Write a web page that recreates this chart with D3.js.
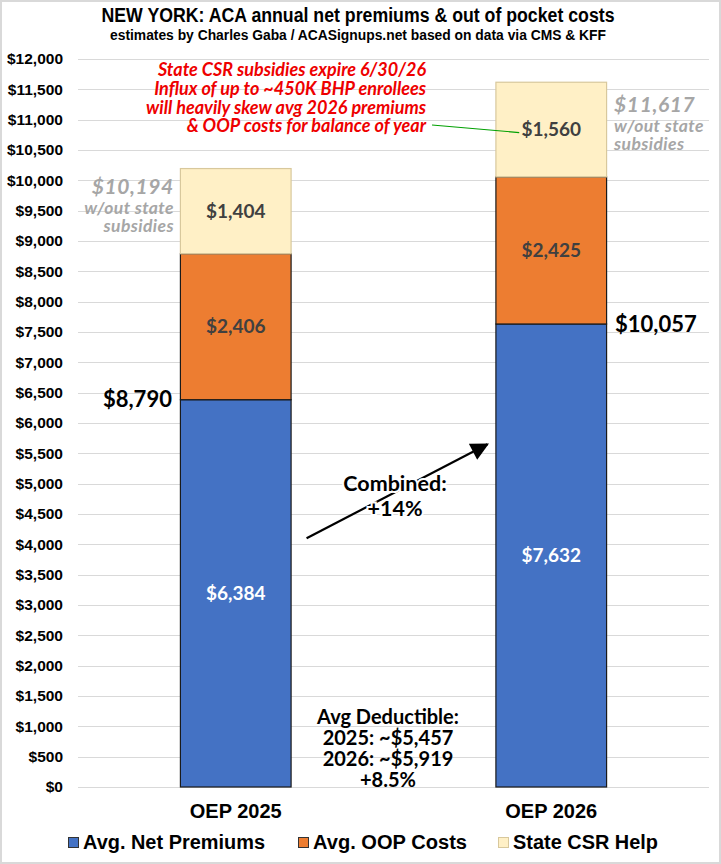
<!DOCTYPE html>
<html>
<head>
<meta charset="utf-8">
<script src="https://cdn.jsdelivr.net/npm/d3@7"></script>
<style>
  html, body { margin: 0; padding: 0; background: #fff; }
  svg { display: block; }
</style>
</head>
<body>
<svg id="chart" width="721" height="864"></svg>
<script>
// ---- data ----
const categories = ["OEP 2025", "OEP 2026"];
const netPremiums = [6384, 7632];
const oopCosts = [2406, 2425];
const csrHelp = [1404, 1560];
const seriesNames = ["Avg. Net Premiums", "Avg. OOP Costs", "State CSR Help"];
const yTicks = d3.range(0, 12001, 500);
const redNote = [
  "State CSR subsidies expire 6/30/26",
  "Influx of up to ~450K BHP enrollees",
  "will heavily skew avg 2026 premiums",
  "& OOP costs for balance of year"
];
const deductibleNote = ["Avg Deductible:", "2025: ~$5,457", "2026: ~$5,919", "+8.5%"];
const combinedNote = ["Combined:", "+14%"];

const W = 721, H = 864;
const svg = d3.select("#chart");
const colors = ["#4472C4", "#ED7D31", "#FFF0C6"];
const strokes = ["#1a1a1a", "#1a1a1a", "#d8c89c"];
const calibri = "Lato, 'Open Sans', sans-serif";
const arial = "'Liberation Sans', Arial, sans-serif";
const fmt = d3.format("$,");

// frame
svg.append("rect").attr("x", 1).attr("y", 1).attr("width", W - 2).attr("height", H - 2)
  .attr("fill", "#fff").attr("stroke", "#d9d9d9").attr("stroke-width", 2);

const x = d3.scaleBand().domain(categories).range([78, 709]).paddingInner(0.646).paddingOuter(0.323);
const y = d3.scaleLinear().domain([0, 12000]).range([787, 59]);

// gridlines
svg.append("g").selectAll("line").data(yTicks).join("line")
  .attr("x1", 78).attr("x2", 709)
  .attr("y1", d => Math.round(y(d)) + 0.5).attr("y2", d => Math.round(y(d)) + 0.5)
  .attr("stroke", "#d9d9d9").attr("stroke-width", 1);

// y axis labels
const yAxis = d3.axisLeft(y).tickValues(yTicks).tickFormat(fmt).tickSize(0).tickPadding(0);
const ya = svg.append("g").attr("transform", "translate(63,0)").call(yAxis);
ya.select(".domain").remove();
ya.selectAll("text").attr("font-family", arial).attr("font-weight", "bold")
  .attr("font-size", 15.5).attr("fill", "#000");

// stacked bars
const rows = categories.map((c, i) => ({ cat: c, net: netPremiums[i], oop: oopCosts[i], csr: csrHelp[i] }));
const stack = d3.stack().keys(["net", "oop", "csr"])(rows);
const g = svg.append("g");
stack.forEach((layer, li) => {
  g.append("g").selectAll("rect").data(layer).join("rect")
    .attr("x", d => x(d.data.cat) + 0.5)
    .attr("width", x.bandwidth() - 1)
    .attr("y", d => y(d[1]))
    .attr("height", d => y(d[0]) - y(d[1]))
    .attr("fill", colors[li])
    .attr("stroke", strokes[li])
    .attr("stroke-width", 1.2);
});

// segment labels
const labelColors = ["#ffffff", "#404040", "#404040"];
stack.forEach((layer, li) => {
  g.append("g").selectAll("text").data(layer).join("text")
    .attr("x", d => x(d.data.cat) + x.bandwidth() / 2)
    .attr("y", d => y((d[0] + d[1]) / 2))
    .attr("dy", "0.35em")
    .attr("text-anchor", "middle")
    .attr("font-family", calibri).attr("font-weight", "bold").attr("font-size", 19)
    .attr("fill", labelColors[li])
    .text(d => fmt(d[1] - d[0]));
});

// net + oop totals at top of blue segment
const sub1 = netPremiums[0] + oopCosts[0];
const sub2 = netPremiums[1] + oopCosts[1];
svg.append("text").attr("x", x(categories[0]) - 8).attr("y", y(netPremiums[0])).attr("dy", "0.35em")
  .attr("text-anchor", "end").attr("font-family", calibri).attr("font-weight", "bold")
  .attr("font-size", 22).attr("fill", "#000").text(fmt(sub1));
svg.append("text").attr("x", x(categories[1]) + x.bandwidth() + 8).attr("y", y(netPremiums[1])).attr("dy", "0.35em")
  .attr("text-anchor", "start").attr("font-family", calibri).attr("font-weight", "bold")
  .attr("font-size", 22).attr("fill", "#000").text(fmt(sub2));

// totals w/out state subsidies
const tot1 = sub1 + csrHelp[0];
const tot2 = sub2 + csrHelp[1];
function grayNote(xp, anchor, y0, total) {
  const t = svg.append("text").attr("text-anchor", anchor).attr("font-family", calibri)
    .attr("font-weight", "bold").attr("font-style", "italic").attr("fill", "#a6a6a6");
  t.append("tspan").attr("x", xp).attr("y", y0).attr("font-size", 21).attr("letter-spacing", 0.6).text(fmt(total));
  t.append("tspan").attr("x", xp).attr("y", y0 + 20).attr("font-size", 17.5).attr("letter-spacing", 0.4).text("w/out state");
  t.append("tspan").attr("x", xp).attr("y", y0 + 38).attr("font-size", 17.5).attr("letter-spacing", 0.4).text("subsidies");
}
grayNote(x(categories[0]) - 6, "end", 194, tot1);
grayNote(x(categories[1]) + x.bandwidth() + 7, "start", 112, tot2);

// red note
const rn = svg.append("text").attr("text-anchor", "end").attr("font-family", calibri)
  .attr("font-weight", "bold").attr("font-style", "italic").attr("font-size", 18).attr("fill", "#ee0000");
redNote.forEach((l, i) => rn.append("tspan").attr("x", 426).attr("y", 76 + i * 18.8).text(l));

// green leader line
svg.append("line").attr("x1", 432).attr("y1", 125)
  .attr("x2", x(categories[1]) + x.bandwidth() / 2 - 32)
  .attr("y2", y(sub2 + csrHelp[1] / 2) + 3)
  .attr("stroke", "#00a000").attr("stroke-width", 1.2);

// arrow
svg.append("defs").append("marker").attr("id", "ah").attr("viewBox", "0 0 10 10")
  .attr("refX", 9).attr("refY", 5).attr("markerWidth", 22).attr("markerHeight", 18)
  .attr("markerUnits", "userSpaceOnUse").attr("orient", "auto")
  .append("path").attr("d", "M0,0 L10,5 L0,10 z").attr("fill", "#000");
svg.append("line")
  .attr("x1", x(categories[0]) + x.bandwidth() + 15).attr("y1", y(4100))
  .attr("x2", x(categories[1]) - 8).attr("y2", y(5650))
  .attr("stroke", "#000").attr("stroke-width", 2.2).attr("marker-end", "url(#ah)");

// combined note (white halo)
const cn = svg.append("text").attr("text-anchor", "middle").attr("font-family", calibri)
  .attr("font-weight", "bold").attr("font-size", 21.5).attr("fill", "#000")
  .attr("stroke", "#fff").attr("stroke-width", 4).attr("paint-order", "stroke");
combinedNote.forEach((l, i) => cn.append("tspan").attr("x", 395).attr("y", 491 + i * 25).text(l));

// deductible note
const dn = svg.append("text").attr("text-anchor", "middle").attr("font-family", calibri)
  .attr("font-weight", "bold").attr("font-size", 20).attr("fill", "#000");
deductibleNote.forEach((l, i) => dn.append("tspan").attr("x", 388).attr("y", 724 + i * 21).text(l));

// category labels
const xAxis = d3.axisBottom(x).tickSize(0).tickPadding(0);
const xa = svg.append("g").attr("transform", "translate(0,818)").call(xAxis);
xa.select(".domain").remove();
xa.selectAll("text").attr("font-family", arial).attr("font-weight", "bold")
  .attr("font-size", 20).attr("fill", "#000").attr("dy", 0);

// title
svg.append("text").attr("x", 358).attr("y", 22).attr("text-anchor", "middle")
  .attr("font-family", arial).attr("font-weight", "bold").attr("font-size", 19.5).attr("fill", "#000")
  .attr("textLength", 513).attr("lengthAdjust", "spacingAndGlyphs")
  .text("NEW YORK: ACA annual net premiums & out of pocket costs");
svg.append("text").attr("x", 358).attr("y", 40).attr("text-anchor", "middle")
  .attr("font-family", arial).attr("font-weight", "bold").attr("font-size", 14).attr("fill", "#000")
  .attr("textLength", 496).attr("lengthAdjust", "spacingAndGlyphs")
  .text("estimates by Charles Gaba / ACASignups.net based on data via CMS & KFF");

// legend
const legX = [68, 298, 498];
const legW = [182, 154, 145];
const lg = svg.append("g");
seriesNames.forEach((s, i) => {
  lg.append("rect").attr("x", legX[i] + 0.5).attr("y", 837.5).attr("width", 10).attr("height", 10)
    .attr("fill", colors[i]).attr("stroke", i < 2 ? "#333" : "#d8c89c").attr("stroke-width", 1);
  lg.append("text").attr("x", legX[i] + 15).attr("y", 849).attr("font-family", arial)
    .attr("font-weight", "bold").attr("font-size", 19.5).attr("fill", "#000")
    .attr("textLength", legW[i]).attr("lengthAdjust", "spacingAndGlyphs").text(s);
});
</script>
</body>
</html>
